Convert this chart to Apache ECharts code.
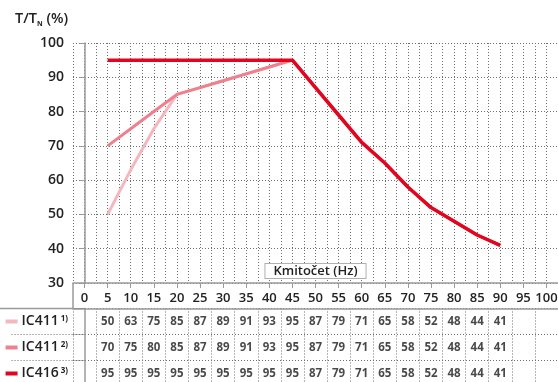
<!DOCTYPE html>
<html>
<head>
<meta charset="utf-8">
<script src="https://cdn.jsdelivr.net/npm/echarts@6/dist/echarts.min.js"></script>
<style>
html,body{margin:0;padding:0;background:#fff;}
#chart{width:558px;height:382px;}
</style>
</head>
<body>
<div id="chart"></div>
<script>
// ---- data ----
var freq = [5, 10, 15, 20, 25, 30, 35, 40, 45, 50, 55, 60, 65, 70, 75, 80, 85, 90];
var ic411a = [50, 63, 75, 85, 87, 89, 91, 93, 95, 87, 79, 71, 65, 58, 52, 48, 44, 41];
var ic411b = [70, 75, 80, 85, 87, 89, 91, 93, 95, 87, 79, 71, 65, 58, 52, 48, 44, 41];
var ic416  = [95, 95, 95, 95, 95, 95, 95, 95, 95, 87, 79, 71, 65, 58, 52, 48, 44, 41];
var seriesNames = ['IC411', 'IC411', 'IC416'];
var seriesNotes = ['1)', '2)', '3)'];
var xTicks = [0, 5, 10, 15, 20, 25, 30, 35, 40, 45, 50, 55, 60, 65, 70, 75, 80, 85, 90, 95, 100];
var xName = 'Kmitočet (Hz)';

var colors = ['#f5b7be', '#ef808e', '#e2051f'];
var allSeries = [ic411a, ic411b, ic416];
var FONT = '"Open Sans", "Noto Sans", sans-serif';
var gridLine = {color: '#6f6f6f', width: 1, type: [1, 2]};
var axisLine = {color: '#9a9a9a', width: 1.5};

function pairs(arr) { return freq.map(function (f, i) { return [f, arr[i]]; }); }

var series = [];
allSeries.forEach(function (arr, k) {
  series.push({
    type: 'line', xAxisIndex: 0, yAxisIndex: 0,
    data: pairs(arr), symbol: 'none',
    lineStyle: {color: colors[k], width: k === 2 ? 3.5 : 3},
    z: 3 + k
  });
});
allSeries.forEach(function (arr, k) {
  series.push({
    type: 'scatter', xAxisIndex: 3, yAxisIndex: 1,
    data: freq.map(function (f, i) { return [f, k, arr[i]]; }),
    symbolSize: 1, itemStyle: {color: 'rgba(0,0,0,0)'},
    label: {show: true, position: 'inside', formatter: function (p) { return p.value[2]; },
      fontFamily: FONT, fontSize: 11.5, fontWeight: 'bold', color: '#1a1a1a'},
    silent: true
  });
});

var chart = echarts.init(document.getElementById('chart'), null, {renderer: 'canvas'});
chart.setOption({
  animation: false,
  backgroundColor: '#fff',
  title: {
    text: 'T/T{s|N} (%)', left: 10, top: 6,
    textStyle: {fontFamily: FONT, fontSize: 14.5, fontWeight: 600, color: '#222',
      rich: {s: {fontFamily: FONT, fontSize: 7, fontWeight: 700, color: '#222', verticalAlign: 'bottom', padding: [9, 0, 0, 0]}}}
  },
  grid: [
    {left: 73, right: 0, top: 43, bottom: 99, outerBoundsMode: 'none'},
    {left: 73, right: 0, top: 308.5, height: 78, outerBoundsMode: 'none'}
  ],
  xAxis: [
    {gridIndex: 0, type: 'value', min: -2.5, max: 102.5, interval: 2.5, position: 'top',
      axisLine: {show: false}, axisTick: {show: false}, axisLabel: {show: false},
      splitLine: {show: true, lineStyle: gridLine}},
    {gridIndex: 0, type: 'value', min: -2.5, max: 102.5, position: 'bottom',
      axisLine: {show: true, lineStyle: axisLine},
      axisTick: {show: true, customValues: xTicks, length: 5, lineStyle: {color: '#9a9a9a', width: 1}},
      axisLabel: {show: true, customValues: xTicks, margin: 9, fontFamily: FONT, fontSize: 13, fontWeight: 600, color: '#222'},
      splitLine: {show: false}},
    {gridIndex: 0, type: 'value', min: -2.5, max: 102.5, position: 'bottom',
      axisLine: {show: false},
      axisTick: {show: true, customValues: [-2.5], length: 26, lineStyle: axisLine},
      axisLabel: {show: false}, splitLine: {show: false},
      name: xName, nameLocation: 'middle', nameGap: -12, nameMoveOverlap: false,
      nameTextStyle: {fontFamily: FONT, fontSize: 13, fontWeight: 600, color: '#222', verticalAlign: 'middle',
        backgroundColor: '#fff', borderColor: '#b0b0b0', borderWidth: 1, padding: [1, 8, 0, 8]}},
    {gridIndex: 1, type: 'value', min: -2.5, max: 102.5, interval: 5, position: 'top',
      axisLine: {show: true, lineStyle: axisLine}, axisTick: {show: false}, axisLabel: {show: false},
      splitLine: {show: true, lineStyle: gridLine}}
  ],
  yAxis: [
    {gridIndex: 0, type: 'value', min: 30, max: 100, interval: 10,
      axisLine: {show: true, lineStyle: axisLine},
      axisTick: {show: true, length: 5, lineStyle: {color: '#9a9a9a', width: 1}},
      axisLabel: {margin: 9, fontFamily: FONT, fontSize: 14, fontWeight: 600, color: '#222'},
      splitLine: {show: true, lineStyle: gridLine}},
    {gridIndex: 1, type: 'category', inverse: true, data: seriesNames.map(function (n, i) { return n + ' ' + seriesNotes[i]; }),
      axisLine: {show: true, lineStyle: axisLine},
      axisTick: {show: true, length: 73, lineStyle: gridLine},
      splitLine: {show: true, lineStyle: gridLine},
      axisLabel: {margin: 5, fontFamily: FONT,
        formatter: function (v, i) { return '{l' + i + '|}{n|' + seriesNames[i] + '}{s|' + seriesNotes[i] + '}'; },
        rich: {
          l0: {width: 12, height: 4, backgroundColor: colors[0]},
          l1: {width: 12, height: 4, backgroundColor: colors[1]},
          l2: {width: 12, height: 4, backgroundColor: colors[2]},
          n: {fontFamily: FONT, fontSize: 14, fontWeight: 600, color: '#222', padding: [0, 2, 0, 4]},
          s: {fontFamily: FONT, fontSize: 8, fontWeight: 700, color: '#222', verticalAlign: 'top', padding: [0, 0, 6, 0]}
        }}}
  ],
  graphic: [
    {type: 'line', shape: {x1: 0, y1: 308.5, x2: 73, y2: 308.5}, style: {stroke: '#9a9a9a', lineWidth: 1.5}, z: 100}
  ],
  series: series
});
</script>
</body>
</html>
